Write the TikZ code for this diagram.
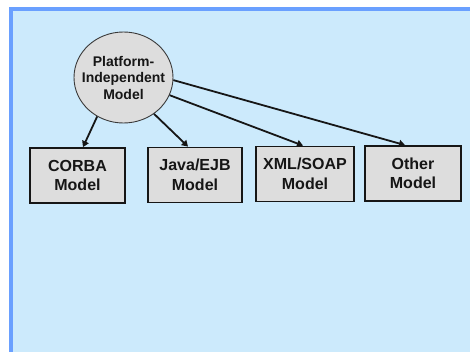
\documentclass[tikz,border=0pt]{standalone}
\usepackage{fontspec}
\setmainfont{Liberation Sans}
\usetikzlibrary{shapes.geometric,arrows.meta,calc}
\definecolor{panelblue}{RGB}{204,234,252}
\definecolor{edgeblue}{RGB}{106,160,255}
\definecolor{boxgray}{RGB}{221,221,221}
\definecolor{inkdark}{RGB}{22,22,22}

\begin{document}
\begin{tikzpicture}[x=1pt,y=-1pt,
  model/.style={draw=inkdark, line width=1.8pt, fill=boxgray, minimum height=55pt,
    inner sep=0pt, align=center, text=inkdark,
    font=\fontsize{16}{19.5}\selectfont\bfseries},
  pimshape/.style={ellipse, draw=inkdark!85, line width=0.9pt, fill=boxgray,
    minimum width=99pt, minimum height=91pt, inner xsep=-9pt, inner ysep=0pt,
    align=center, text=inkdark, font=\fontsize{14}{16.5}\selectfont\bfseries},
  link/.style={line width=1.8pt, draw=inkdark, -{Triangle[length=6pt,width=7pt]}}]
  \useasboundingbox (0,0) rectangle (470,352);
  % page background and framed panel
  \fill[white] (0,0) rectangle (470,352);
  \fill[edgeblue] (9,7) rectangle (470,352);
  \fill[panelblue] (13,11) rectangle (470,352);

  % source model
  \node[pimshape] (pim) at (123.5,77.5) {Platform-\\Independent\\Model};

  % platform-specific models
  \node[model, minimum width=95pt] (corba) at (77.5,175.5) {CORBA\\Model};
  \node[model, minimum width=94pt] (java)  at (195,175)    {Java/EJB\\Model};
  \node[model, minimum width=98pt] (xml)   at (305,174)    {XML/SOAP\\Model};
  \node[model, minimum width=96pt] (other) at (413,173.5)  {Other\\Model};

  % transformations
  \draw[link] (pim.236.8) -- ([xshift=5.5pt]corba.north);
  \draw[link] (pim.310.5) -- ([xshift=-7pt]java.north);
  \draw[link] (pim.339)   -- ([xshift=-2pt]xml.north);
  \draw[link] (pim.357)   -- ([xshift=-8pt]other.north);
\end{tikzpicture}
\end{document}
